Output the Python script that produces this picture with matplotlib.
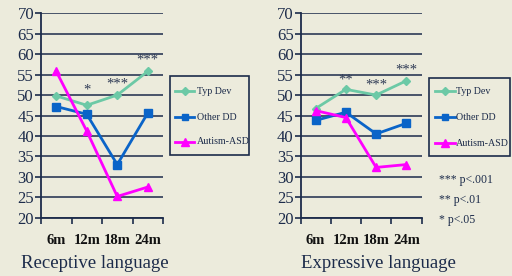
import matplotlib
matplotlib.use("Agg")
import matplotlib.pyplot as plt
from matplotlib.lines import Line2D
from matplotlib.patches import Rectangle

# ── data ────────────────────────────────────────────────────────────────
ages = ["6m", "12m", "18m", "24m"]

rec_typ = [49.8, 47.5, 50.0, 55.8]
rec_other = [47.2, 45.3, 33.0, 45.6]
rec_asd = [55.8, 41.2, 25.2, 27.5]
rec_stars = ["", "*", "***", "***"]
rec_star_y = [None, 51.3, 52.6, 58.6]

exp_typ = [46.7, 51.4, 50.0, 53.5]
exp_other = [43.8, 45.8, 40.5, 43.1]
exp_asd = [46.2, 44.5, 32.3, 33.0]
exp_stars = ["", "**", "***", "***"]
exp_star_y = [None, 53.7, 52.5, 56.2]

titles = ["Receptive language", "Expressive language"]
series_names = ["Typ Dev", "Other DD", "Autism-ASD"]
footnotes = ["*** p<.001", "** p<.01", "* p<.05"]

W, H = 512, 276
bg = "#ECEBDC"
ink = "#1C2B4A"
colors = {"Typ Dev": "#6CC9A6", "Other DD": "#0A64C8", "Autism-ASD": "#FF00FF"}
markers = {"Typ Dev": "D", "Other DD": "s", "Autism-ASD": "^"}
msizes = {"Typ Dev": 4.5, "Other DD": 5.5, "Autism-ASD": 6}

plt.rcParams["font.family"] = ["Liberation Serif", "DejaVu Serif"]

fig = plt.figure(figsize=(W / 100, H / 100), dpi=100)
fig.patch.set_facecolor(bg)


def px_axes(x0, y0, x1, y1):
    return fig.add_axes([x0 / W, 1 - y1 / H, (x1 - x0) / W, (y1 - y0) / H])


def fx(px):
    return px / W


def fy(py):
    return 1 - py / H


panels = [
    (px_axes(41, 13.3, 163, 217.7), (rec_typ, rec_other, rec_asd), rec_stars, rec_star_y,
     (170, 76, 249, 155), (91, 117, 142), (175, 194, 197), 95),
    (px_axes(300.5, 13.3, 421.5, 217.7), (exp_typ, exp_other, exp_asd), exp_stars, exp_star_y,
     (429, 78, 510, 156), (91, 117, 143), (435, 455, 456), 378),
]

x = list(range(len(ages)))
for i, (ax, series, stars, star_y, lbox, ly, lx, title_x) in enumerate(panels):
    ax.set_facecolor("none")
    for name, vals in zip(series_names, series):
        ax.plot(x, vals, color=colors[name], linewidth=2, marker=markers[name],
                markersize=msizes[name], zorder=3)
    for xi, s, yv in zip(x, stars, star_y):
        if s:
            ax.text(xi, yv, s, ha="center", va="center", fontsize=10.5, color="#2E3A55")

    ax.set_xlim(-0.5, 3.5)
    ax.set_ylim(20, 70)
    ax.set_yticks(range(20, 71, 5))
    ax.yaxis.grid(True, color=ink, linewidth=1.1)
    ax.set_axisbelow(True)
    ax.set_xticks([-0.5, 0.5, 1.5, 2.5, 3.5])
    ax.set_xticklabels([])
    ax.set_xticks(x, minor=True)
    ax.set_xticklabels(ages, minor=True, fontweight="bold", fontsize=10.5, color="#111111")
    ax.tick_params(axis="x", which="minor", length=0, pad=12)
    ax.tick_params(axis="x", which="major", length=4, color=ink, width=1.2, direction="out")
    ax.tick_params(axis="y", length=4, color=ink, width=1.2, labelsize=12,
                   labelcolor=ink, pad=1)
    for sp in ["top", "right"]:
        ax.spines[sp].set_visible(False)
    for sp in ["left", "bottom"]:
        ax.spines[sp].set_color(ink)
        ax.spines[sp].set_linewidth(1.3)

    # legend box, drawn by hand
    bx0, by0, bx1, by1 = lbox
    fig.patches.append(Rectangle((fx(bx0), fy(by1)), fx(bx1) - fx(bx0), fy(by0) - fy(by1),
                                 transform=fig.transFigure, fill=False,
                                 edgecolor=ink, linewidth=1.2))
    for name, yy in zip(series_names, ly):
        fig.lines.append(Line2D([fx(lx[0]), fx(lx[1])], [fy(yy), fy(yy)],
                                transform=fig.transFigure, color=colors[name],
                                linewidth=2))
        fig.lines.append(Line2D([fx((lx[0] + lx[1]) / 2)], [fy(yy)],
                                transform=fig.transFigure, color=colors[name],
                                marker=markers[name], markersize=msizes[name] - 0.5))
        fig.text(fx(lx[2]), fy(yy), name, ha="left", va="center", fontsize=7.2, color=ink)

    fig.text(fx(title_x), fy(263), titles[i], ha="center", va="center",
             fontsize=13.5, color=ink)

for j, note in enumerate(footnotes):
    fig.text(fx(439), fy(180 + 20 * j), note, ha="left", va="center",
             fontsize=8.5, color=ink)

fig.savefig("out.png", dpi=100, facecolor=fig.get_facecolor())
